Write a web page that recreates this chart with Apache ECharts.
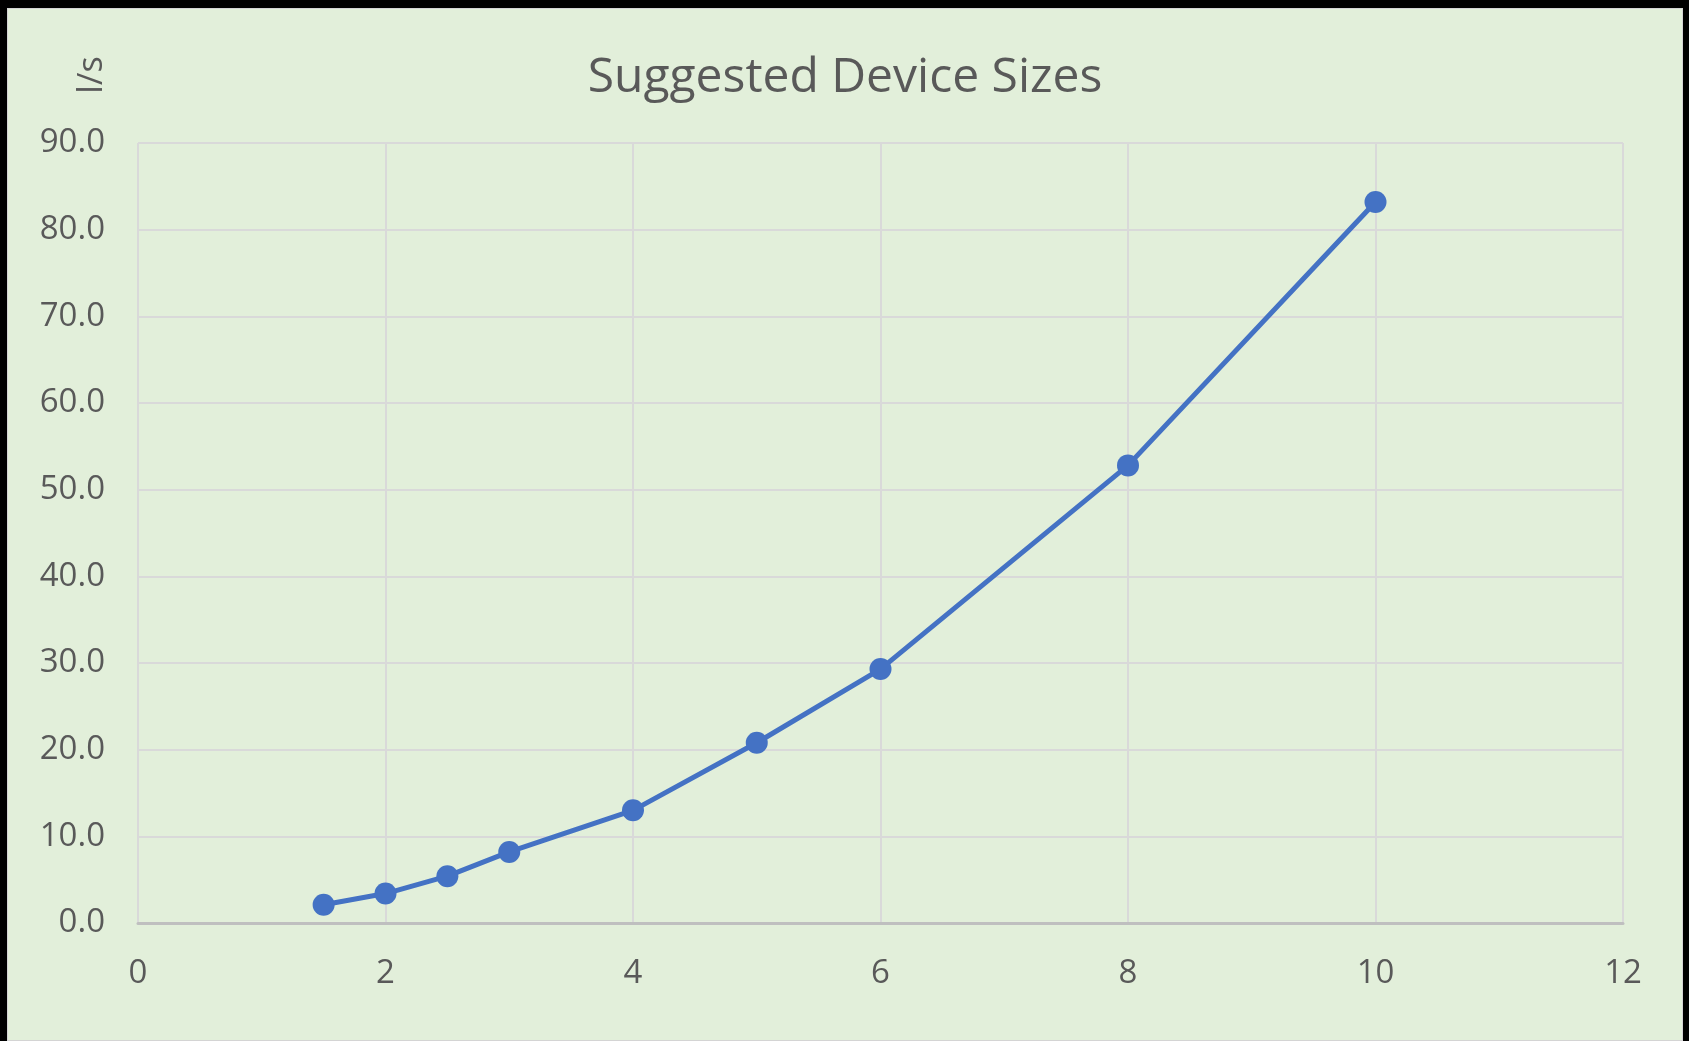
<!DOCTYPE html>
<html>
<head>
<meta charset="utf-8">
<script src="https://cdn.jsdelivr.net/npm/echarts@6/dist/echarts.min.js"></script>
<style>
  html, body { margin: 0; padding: 0; background: #000; }
  #main {
    position: absolute;
    left: 7px; top: 8px;
    width: 1674px; height: 1031px;
    background: #e2efda;
    border: 1px solid #d4d4d4;
  }
</style>
</head>
<body>
<div id="main"></div>
<script>
// device size (x) vs flow in l/s (y)
var sizes = [1.5, 2, 2.5, 3, 4, 5, 6, 8, 10];
var flows = [2.1, 3.4, 5.4, 8.2, 13.0, 20.8, 29.3, 52.8, 83.2];
var xTicks = [0, 12, 2];   // min, max, step
var yTicks = [0, 90, 10];

var chart = echarts.init(document.getElementById('main'));

var points = [];
for (var i = 0; i < sizes.length; i++) {
  points.push([sizes[i], flows[i]]);
}

chart.setOption({
  backgroundColor: '#e2efda',
  animation: false,
  title: {
    text: 'Suggested Device Sizes',
    left: 'center',
    top: 45,
    padding: 0,
    textStyle: {
      fontFamily: 'Open Sans',
      fontWeight: 'normal',
      fontSize: 48,
      color: '#595959'
    }
  },
  graphic: [{
    type: 'text',
    x: 84, y: 66,
    rotation: Math.PI / 2,
    style: {
      text: 'l/s',
      font: '34px "Open Sans"',
      fill: '#595959',
      align: 'center',
      verticalAlign: 'middle'
    }
  }],
  grid: {
    left: 130,
    right: 59,
    top: 134,
    bottom: 117
  },
  xAxis: {
    type: 'value',
    min: xTicks[0],
    max: xTicks[1],
    interval: xTicks[2],
    axisLine: { show: true, lineStyle: { color: '#bfbfbf', width: 3 } },
    axisTick: { show: false },
    axisLabel: {
      margin: 34,
      fontFamily: 'Open Sans',
      fontSize: 33,
      color: '#595959'
    },
    splitLine: { show: true, lineStyle: { color: '#d9d9d9', width: 2 } }
  },
  yAxis: {
    type: 'value',
    min: yTicks[0],
    max: yTicks[1],
    interval: yTicks[2],
    axisLine: { show: false },
    axisTick: { show: false },
    axisLabel: {
      margin: 33,
      fontFamily: 'Open Sans',
      fontSize: 33,
      color: '#595959',
      formatter: function (v) { return v.toFixed(1); }
    },
    splitLine: { show: true, lineStyle: { color: '#d9d9d9', width: 2 } }
  },
  series: [{
    type: 'line',
    data: points,
    symbol: 'circle',
    symbolSize: 22,
    lineStyle: { color: '#4472c4', width: 5 },
    itemStyle: { color: '#4472c4' }
  }]
});
</script>
</body>
</html>
